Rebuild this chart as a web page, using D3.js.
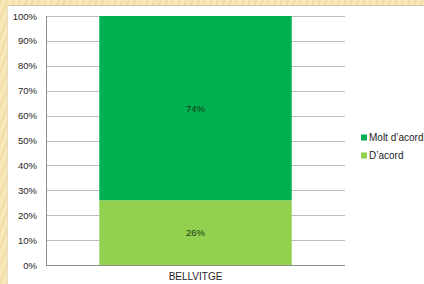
<!DOCTYPE html>
<html>
<head>
<meta charset="utf-8">
<script src="https://cdn.jsdelivr.net/npm/d3@7"></script>
<style>
  html, body { margin: 0; padding: 0; background: #f6e4b3; }
  svg { display: block; font-family: 'Liberation Sans', Arial, sans-serif; }
</style>
</head>
<body>
<div id="chart"></div>
<script>
// data
const categories = ['BELLVITGE']
const seriesNames = ['D’acord', 'Molt d’acord']
const dacord = [26]
const moltDacord = [74]
const yTicks = [0, 10, 20, 30, 40, 50, 60, 70, 80, 90, 100]

const colors = { 'D’acord': '#92d050', 'Molt d’acord': '#00b050' }

const W = 424
const H = 284
const margin = { top: 16, left: 46, right: 79, bottom: 19 }
const width = W - margin.left - margin.right
const height = H - margin.top - margin.bottom

const root = d3.select('#chart')
  .append('svg')
  .attr('width', W)
  .attr('height', H)

// parchment background with faint stripes
const defs = root.append('defs')
const pat = defs.append('pattern')
  .attr('id', 'paper')
  .attr('width', 6)
  .attr('height', 6)
  .attr('patternUnits', 'userSpaceOnUse')
  .attr('patternTransform', 'rotate(20)')
pat.append('rect').attr('width', 6).attr('height', 6).attr('fill', '#f8e7b9')
pat.append('rect').attr('width', 2).attr('height', 6).attr('fill', '#f2dca6')

root.append('rect').attr('width', W).attr('height', H).attr('fill', 'url(#paper)')
// white panel
root.append('rect')
  .attr('x', 7).attr('y', 5)
  .attr('width', W - 7).attr('height', H - 5)
  .attr('fill', '#ffffff')
root.append('line')
  .attr('x1', 7).attr('x2', W).attr('y1', 5.5).attr('y2', 5.5)
  .attr('stroke', '#cfc4a8')
root.append('line')
  .attr('x1', 7.5).attr('x2', 7.5).attr('y1', 5).attr('y2', H)
  .attr('stroke', '#e6dcc0')

const svg = root.append('g')
  .attr('transform', 'translate(' + margin.left + ',' + margin.top + ')')

const xScale = d3.scaleBand()
  .domain(categories)
  .range([0, width])
  .paddingInner(0.35)
  .paddingOuter(0.18)

const yScale = d3.scaleLinear().domain([0, 100]).range([height, 0])

// gridlines
svg.selectAll('.grid')
  .data(yTicks.filter(d => d > 0))
  .enter()
  .append('line')
  .attr('class', 'grid')
  .attr('x1', 0)
  .attr('x2', width)
  .attr('y1', d => Math.round(yScale(d)) + 0.5)
  .attr('y2', d => Math.round(yScale(d)) + 0.5)
  .attr('stroke', '#bdbdbd')
  .attr('stroke-width', 1)

// stacked bars
const rows = categories.map((c, i) => ({ cat: c, 'D’acord': dacord[i], 'Molt d’acord': moltDacord[i] }))
const stacked = d3.stack().keys(seriesNames)(rows)

const layers = svg.selectAll('.layer')
  .data(stacked)
  .enter()
  .append('g')
  .attr('class', 'layer')
  .attr('fill', d => colors[d.key])

layers.selectAll('rect')
  .data(d => d)
  .enter()
  .append('rect')
  .attr('x', d => xScale(d.data.cat))
  .attr('width', xScale.bandwidth())
  .attr('y', d => yScale(d[1]))
  .attr('height', d => yScale(d[0]) - yScale(d[1]))

layers.selectAll('text')
  .data(d => d)
  .enter()
  .append('text')
  .attr('x', d => xScale(d.data.cat) + xScale.bandwidth() / 2)
  .attr('y', d => yScale((d[0] + d[1]) / 2) + 3.5)
  .attr('text-anchor', 'middle')
  .attr('font-size', 9.5)
  .attr('fill', '#173617')
  .text(d => (d[1] - d[0]) + '%')

// axes
const yAxis = d3.axisLeft(yScale)
  .tickValues(yTicks)
  .tickSize(0)
  .tickPadding(9)
  .tickFormat(d => d + '%')
svg.append('g')
  .attr('class', 'y-axis')
  .call(yAxis)
svg.select('.y-axis path').remove()
svg.selectAll('.y-axis text')
  .attr('font-size', 9.5)
  .attr('font-family', "'Liberation Sans', Arial, sans-serif")
  .attr('fill', '#1e1e1e')

const xAxis = d3.axisBottom(xScale).tickSize(0).tickPadding(8)
svg.append('g')
  .attr('class', 'x-axis')
  .attr('transform', 'translate(0,' + height + ')')
  .call(xAxis)
svg.select('.x-axis path').remove()
svg.selectAll('.x-axis text')
  .attr('font-size', 10)
  .attr('font-family', "'Liberation Sans', Arial, sans-serif")
  .attr('fill', '#1e1e1e')

// axis lines
svg.append('line')
  .attr('x1', 0.5).attr('x2', 0.5).attr('y1', 0).attr('y2', height)
  .attr('stroke', '#8c8c8c')
svg.append('line')
  .attr('x1', 0).attr('x2', width).attr('y1', height + 0.5).attr('y2', height + 0.5)
  .attr('stroke', '#8c8c8c')

// legend
const legendNames = seriesNames.slice().reverse()
const legend = root.append('g')
  .attr('transform', 'translate(361,133)')
const item = legend.selectAll('g')
  .data(legendNames)
  .enter()
  .append('g')
  .attr('transform', (d, i) => 'translate(0,' + i * 18 + ')')
item.append('rect')
  .attr('width', 6).attr('height', 6)
  .attr('y', 1.5)
  .attr('fill', d => colors[d])
item.append('text')
  .attr('x', 8)
  .attr('y', 8)
  .attr('font-size', 10)
  .attr('fill', '#1e1e1e')
  .text(d => d)
</script>
</body>
</html>
